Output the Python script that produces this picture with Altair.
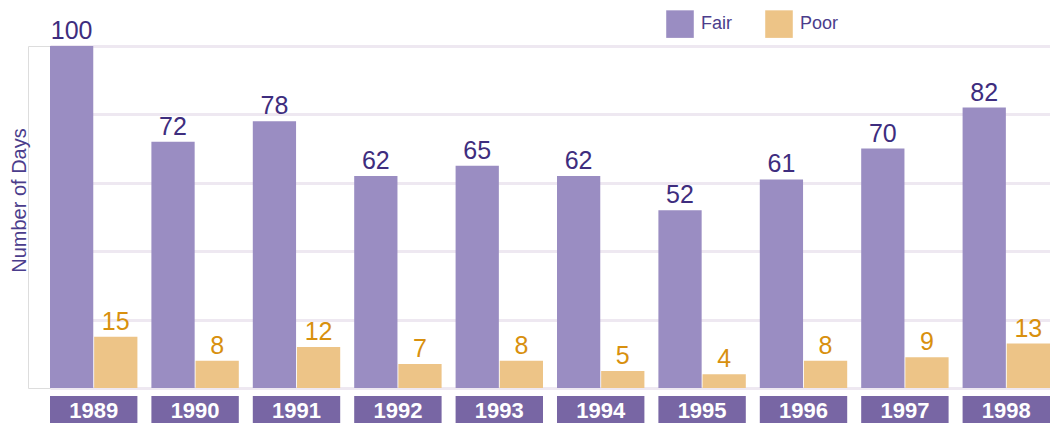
import altair as alt
import pandas as pd

years = ["1989", "1990", "1991", "1992", "1993", "1994", "1995", "1996", "1997", "1998"]
fair = [100, 72, 78, 62, 65, 62, 52, 61, 70, 82]
poor = [15, 8, 12, 7, 8, 5, 4, 8, 9, 13]
series = ["Fair", "Poor"]
bar_colors = ["#9A8DC2", "#EDC487"]
label_colors = ["#3E2D7E", "#D8900E"]
y_ticks = [0, 20, 40, 60, 80, 100]

rows = []
for i, yr in enumerate(years):
    rows.append({"year": yr, "series": "Fair", "value": fair[i]})
    rows.append({"year": yr, "series": "Poor", "value": poor[i]})
df = pd.DataFrame(rows)
df_years = pd.DataFrame({"year": years})

FONT = "Liberation Sans"

x_enc = alt.X("year:N", sort=years, axis=None,
              scale=alt.Scale(range=[22, 1022], paddingInner=0.138, paddingOuter=0, round=False))
xoff = alt.XOffset("series:N", sort=series,
                   scale=alt.Scale(paddingInner=0.02, paddingOuter=0, round=False))
y_enc = alt.Y("value:Q",
              scale=alt.Scale(domain=[0, 100], nice=False, zero=True),
              axis=alt.Axis(values=y_ticks, labels=False, ticks=False, domain=False,
                            grid=True, gridColor="#EEE8F1", gridWidth=3,
                            title="Number of Days", titleFont=FONT, titleFontSize=20,
                            titleFontWeight="normal", titleColor="#4B3D8C",
                            titleX=-9, titleY=154, titleAngle=270,
                            titleAlign="center", titleBaseline="middle"))

bars = alt.Chart(df).mark_bar().encode(
    x=x_enc, xOffset=xoff, y=y_enc,
    color=alt.Color("series:N", sort=series,
                    scale=alt.Scale(domain=series, range=bar_colors),
                    legend=alt.Legend(title=None, orient="none", legendX=638, legendY=-36,
                                      direction="horizontal", symbolType="square",
                                      symbolSize=760, symbolStrokeWidth=0,
                                      symbolOpacity=1,
                                      labelFont=FONT, labelFontSize=18,
                                      labelColor="#4B3D8C", labelOffset=7,
                                      columnPadding=33)),
)

labels = alt.Chart(df).mark_text(baseline="alphabetic", dy=-7, fontSize=25, font=FONT).encode(
    x=x_enc, xOffset=xoff, y=alt.Y("value:Q"),
    text=alt.Text("value:Q"),
    color=alt.condition("datum.series == 'Fair'", alt.value(label_colors[0]), alt.value(label_colors[1])),
)

boxes = alt.Chart(df_years).mark_rect(color="#7866A4").encode(
    x=x_enc, y=alt.value(350), y2=alt.value(377),
)

year_text = alt.Chart(df_years).mark_text(color="white", fontWeight="bold", fontSize=22,
                                          font=FONT, baseline="middle", dy=1).encode(
    x=x_enc, y=alt.value(363.5), text="year:N",
)

chart = alt.layer(bars, labels, boxes, year_text).properties(
    width=1022, height=342,
    padding={"left": 20, "top": 38, "right": 0, "bottom": 35},
    autosize=alt.AutoSizeParams(type="none"),
).configure_view(stroke=None).configure(font=FONT)

chart.save("out.html", embed_options={"renderer": "svg", "actions": False})
